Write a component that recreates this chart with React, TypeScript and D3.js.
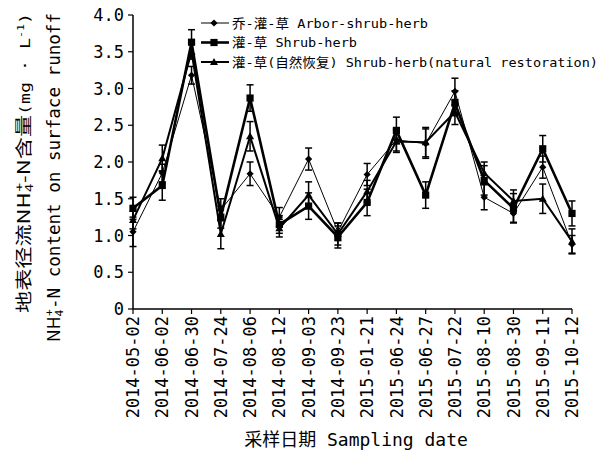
import React from "react";
import * as d3 from "d3";

const dates = ["2014-05-02","2014-06-02","2014-06-30","2014-07-24","2014-08-06","2014-08-12","2014-09-03","2014-09-23","2015-01-21","2015-06-24","2015-06-27","2015-07-22","2015-08-10","2015-08-30","2015-09-11","2015-10-12"];

const arbor = [1.05,1.85,3.18,1.35,1.84,1.25,2.04,1.05,1.83,2.30,2.25,2.96,1.52,1.30,1.93,0.88];
const arborErr = [0.2,0.12,0.12,0.15,0.16,0.13,0.15,0.12,0.15,0.15,0.2,0.18,0.17,0.12,0.15,0.12];
const shrub = [1.37,1.68,3.63,1.25,2.87,1.15,1.40,0.98,1.45,2.43,1.55,2.80,1.75,1.37,2.18,1.30];
const shrubErr = [0.15,0.2,0.17,0.15,0.18,0.12,0.18,0.15,0.18,0.18,0.18,0.17,0.2,0.2,0.18,0.17];
const natural = [1.21,2.05,3.50,1.02,2.35,1.10,1.55,1.02,1.60,2.28,2.27,2.68,1.85,1.47,1.50,0.92];
const naturalErr = [0.12,0.18,0.1,0.2,0.2,0.12,0.18,0.15,0.15,0.15,0.2,0.17,0.15,0.15,0.2,0.17];

const yTicks = [0,0.5,1,1.5,2,2.5,3,3.5,4];
const seriesNames = ["乔-灌-草 Arbor-shrub-herb","灌-草 Shrub-herb","灌-草(自然恢复) Shrub-herb(natural restoration)"];

const MONO = "'DejaVu Sans Mono', 'Noto Sans CJK SC', monospace";

export default function App() {
  const x = d3.scalePoint<string>().domain(dates).range([133, 572]).padding(0);
  const y = d3.scaleLinear().domain([0, 4]).range([309, 15]);
  const line = d3.line<number>().x((_, i) => x(dates[i])!).y(d => y(d));

  const series = [
    { name: seriesNames[0], values: arbor, err: arborErr, width: 1, marker: "diamond", legendLen: 196 },
    { name: seriesNames[1], values: shrub, err: shrubErr, width: 2.6, marker: "square", legendLen: 125 },
    { name: seriesNames[2], values: natural, err: naturalErr, width: 2, marker: "triangle", legendLen: 366 },
  ];

  const marker = (type: string, cx: number, cy: number, key: string) => {
    if (type === "diamond") {
      const s = 3.6;
      return <path key={key} d={`M${cx},${cy - s}L${cx + s},${cy}L${cx},${cy + s}L${cx - s},${cy}Z`} fill="#000" />;
    }
    if (type === "square") {
      const s = 3.6;
      return <rect key={key} x={cx - s} y={cy - s} width={2 * s} height={2 * s} fill="#000" />;
    }
    const s = 4;
    return <path key={key} d={`M${cx},${cy - s}L${cx + s},${cy + s * 0.75}L${cx - s},${cy + s * 0.75}Z`} fill="#000" />;
  };

  return (
    <svg width={603} height={455} style={{ position: "absolute", left: 0, top: 0, background: "#fff" }}>
      <rect width={603} height={455} fill="#fff" />
      {/* axes */}
      <line x1={133} x2={133} y1={y(4)} y2={y(0)} stroke="#000" strokeWidth={1.5} />
      <line x1={133} x2={572} y1={y(0)} y2={y(0)} stroke="#000" strokeWidth={1.5} />
      {yTicks.map(t => (
        <g key={"yt" + t}>
          <line x1={128} x2={133} y1={y(t)} y2={y(t)} stroke="#000" strokeWidth={1.2} />
          <text x={124} y={y(t)} dy="0.36em" textAnchor="end" fontFamily={MONO} fontSize={17}>
            {t === 0 ? "0" : d3.format(".1f")(t)}
          </text>
        </g>
      ))}
      {dates.map(d => (
        <g key={"xt" + d}>
          <line x1={x(d)!} x2={x(d)!} y1={y(0)} y2={y(0) + 5} stroke="#000" strokeWidth={1.2} />
          <text transform={`translate(${x(d)!},316) rotate(-90)`} dy="0.36em" textAnchor="end" fontFamily={MONO} fontSize={17}>
            {d}
          </text>
        </g>
      ))}
      {/* series */}
      {series.map((s, si) => (
        <g key={"s" + si}>
          {s.values.map((v, i) => {
            const cx = x(dates[i])!;
            const y1 = y(v - s.err[i]);
            const y2 = y(v + s.err[i]);
            return (
              <g key={"e" + i} stroke="#000" strokeWidth={1.5}>
                <line x1={cx} x2={cx} y1={y1} y2={y2} />
                <line x1={cx - 3.5} x2={cx + 3.5} y1={y1} y2={y1} />
                <line x1={cx - 3.5} x2={cx + 3.5} y1={y2} y2={y2} />
              </g>
            );
          })}
          <path d={line(s.values)!} fill="none" stroke="#000" strokeWidth={s.width} strokeLinejoin="miter" />
          {s.values.map((v, i) => marker(s.marker, x(dates[i])!, y(v), "m" + i))}
        </g>
      ))}
      {/* legend */}
      {series.map((s, i) => {
        const ly = 23 + i * 19.5;
        return (
          <g key={"lg" + i}>
            <line x1={201} x2={229} y1={ly} y2={ly} stroke="#000" strokeWidth={s.width} />
            {marker(s.marker, 214, ly, "lm" + i)}
            <text x={232} y={ly} dy="0.36em" fontFamily={MONO} fontSize={13} textLength={s.legendLen} lengthAdjust="spacingAndGlyphs">
              {s.name}
            </text>
          </g>
        );
      })}
      {/* y axis title */}
      <text transform="translate(24,313) rotate(-90)" dy="0.36em" fontFamily={MONO} fontSize={17} textLength={300} lengthAdjust="spacingAndGlyphs">
        <tspan fontFamily="'Noto Sans CJK SC', sans-serif">地表径流NH</tspan>
        <tspan fontSize={11} baselineShift="-3">4</tspan>
        <tspan fontSize={11} dx={-6} baselineShift="7">+</tspan>
        <tspan fontFamily="'Noto Sans CJK SC', sans-serif">-N含量</tspan>
        <tspan fontSize={14}>(mg · L</tspan>
        <tspan fontSize={9} baselineShift="6">-1</tspan>
        <tspan fontSize={14}>)</tspan>
      </text>
      <text transform="translate(54,342) rotate(-90)" dy="0.36em" fontFamily={MONO} fontSize={17} textLength={329} lengthAdjust="spacingAndGlyphs">
        <tspan fontFamily="'Noto Sans CJK SC', sans-serif">NH</tspan>
        <tspan fontSize={11} baselineShift="-3">4</tspan>
        <tspan fontSize={11} dx={-6} baselineShift="7">+</tspan>
        <tspan>-N content on surface runoff</tspan>
      </text>
      {/* x axis title */}
      <text x={356} y={440} textAnchor="middle" dy="0.36em" fontFamily={MONO} fontSize={18}>
        采样日期 Sampling date
      </text>
    </svg>
  );
}
